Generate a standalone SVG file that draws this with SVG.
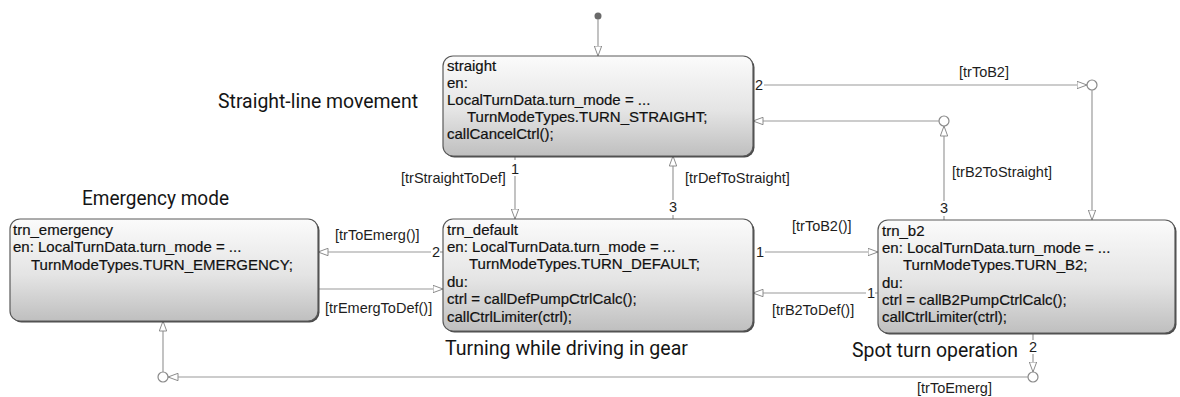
<svg xmlns="http://www.w3.org/2000/svg" width="1180" height="397" viewBox="0 0 1180 397">
  <defs>
    <linearGradient id="stateFill" x1="0" y1="0" x2="0" y2="1">
      <stop offset="0" stop-color="#fbfbfb"/>
      <stop offset="0.55" stop-color="#e4e4e4"/>
      <stop offset="1" stop-color="#bfbfbf"/>
    </linearGradient>
    <marker id="arrow" viewBox="0 0 11 9" refX="10.5" refY="4.5" markerWidth="11" markerHeight="9" markerUnits="userSpaceOnUse" orient="auto">
      <path d="M0.5,0.8 L10.5,4.5 L0.5,8.2 Z" fill="#ffffff" stroke="#8c8c8c" stroke-width="1"/>
    </marker>
    <style>
      .state-shadow { fill: #4a4a4a; }
      .state { fill: url(#stateFill); stroke: #5a5a5a; stroke-width: 1.2; }
      .code { font-family: "Liberation Sans", Arial, sans-serif; font-size: 15px; fill: #111111; stroke: #111111; stroke-width: 0.2; }
      .lbl { font-family: "Liberation Sans", Arial, sans-serif; font-size: 14.5px; fill: #1e1e1e; }
      .note { font-family: Roboto, "Noto Sans", sans-serif; font-size: 21px; fill: #151515; }
      .wire { fill: none; stroke: #9a9a9a; stroke-width: 1.2; }
      .arr { marker-end: url(#arrow); }
      .junction { fill: #ffffff; stroke: #8a8a8a; stroke-width: 1.2; }
    </style>
  </defs>

  <rect width="1180" height="397" fill="#ffffff"/>

  <!-- annotations -->
  <text class="note" x="218" y="108" textLength="200" lengthAdjust="spacingAndGlyphs">Straight-line movement</text>
  <text class="note" x="82" y="205" textLength="147" lengthAdjust="spacingAndGlyphs">Emergency mode</text>
  <text class="note" x="445" y="355" textLength="243" lengthAdjust="spacingAndGlyphs">Turning while driving in gear</text>
  <text class="note" x="852" y="357" textLength="166" lengthAdjust="spacingAndGlyphs">Spot turn operation</text>

  <!-- connectors -->
  <g id="connectors">
    <!-- default transition -->
    <circle cx="598" cy="16" r="3.5" fill="#6a6a6a"/>
    <line class="wire arr" x1="598" y1="19" x2="598" y2="56"/>

    <!-- straight -> trn_default -->
    <line class="wire" x1="515" y1="156" x2="515" y2="160"/>
    <text class="lbl" x="511" y="174">1</text>
    <line class="wire arr" x1="515" y1="176" x2="515" y2="219"/>
    <text class="lbl" x="401" y="183">[trStraightToDef]</text>

    <!-- trn_default -> straight -->
    <line class="wire" x1="673" y1="219" x2="673" y2="215"/>
    <text class="lbl" x="669" y="212">3</text>
    <line class="wire arr" x1="673" y1="200" x2="673" y2="156"/>
    <text class="lbl" x="685" y="183">[trDefToStraight]</text>

    <!-- straight -> junction -> trn_b2 -->
    <text class="lbl" x="755" y="90">2</text>
    <line class="wire arr" x1="764" y1="85" x2="1087" y2="85"/>
    <text class="lbl" x="959" y="77">[trToB2]</text>
    <circle class="junction" cx="1092" cy="85" r="5"/>
    <line class="wire arr" x1="1092" y1="90" x2="1092" y2="220"/>

    <!-- trn_b2 -> junction -> straight -->
    <line class="wire" x1="944" y1="220" x2="944" y2="216"/>
    <text class="lbl" x="940" y="213">3</text>
    <line class="wire arr" x1="944" y1="201" x2="944" y2="126"/>
    <text class="lbl" x="952" y="177">[trB2ToStraight]</text>
    <circle class="junction" cx="944" cy="121" r="5"/>
    <line class="wire arr" x1="939" y1="121" x2="753" y2="121"/>

    <!-- trn_default -> trn_emergency -->
    <line class="wire" x1="443" y1="252" x2="440" y2="252"/>
    <text class="lbl" x="432" y="257">2</text>
    <line class="wire arr" x1="431" y1="252" x2="318" y2="252"/>
    <text class="lbl" x="335" y="240">[trToEmerg()]</text>

    <!-- trn_emergency -> trn_default -->
    <line class="wire arr" x1="318" y1="289" x2="443" y2="289"/>
    <text class="lbl" x="325" y="313">[trEmergToDef()]</text>

    <!-- trn_default -> trn_b2 -->
    <text class="lbl" x="756" y="257">1</text>
    <line class="wire arr" x1="765" y1="252" x2="878" y2="252"/>
    <text class="lbl" x="792" y="231">[trToB2()]</text>

    <!-- trn_b2 -> trn_default -->
    <line class="wire" x1="878" y1="293" x2="875" y2="293"/>
    <text class="lbl" x="867" y="298">1</text>
    <line class="wire arr" x1="866" y1="293" x2="753" y2="293"/>
    <text class="lbl" x="772" y="315">[trB2ToDef()]</text>

    <!-- trn_b2 -> junction -> junction -> trn_emergency -->
    <line class="wire" x1="1033" y1="333" x2="1033" y2="340"/>
    <text class="lbl" x="1029" y="352">2</text>
    <line class="wire arr" x1="1033" y1="354" x2="1033" y2="372"/>
    <circle class="junction" cx="1033" cy="377" r="5"/>
    <line class="wire arr" x1="1028" y1="377" x2="168" y2="377"/>
    <text class="lbl" x="917" y="393">[trToEmerg]</text>
    <circle class="junction" cx="163" cy="377" r="5"/>
    <line class="wire arr" x1="163" y1="372" x2="163" y2="321"/>
  </g>

  <!-- states -->
  <g id="straight">
    <rect class="state-shadow" x="444.5" y="57.5" width="310" height="100" rx="10"/>
    <rect class="state" x="443" y="56" width="310" height="100" rx="10"/>
    <text class="code" x="447" y="71">straight</text>
    <text class="code" x="447" y="88">en:</text>
    <text class="code" x="447" y="105">LocalTurnData.turn_mode = ...</text>
    <text class="code" x="467" y="122">TurnModeTypes.TURN_STRAIGHT;</text>
    <text class="code" x="447" y="139">callCancelCtrl();</text>
  </g>

  <g id="trn_emergency">
    <rect class="state-shadow" x="11.5" y="220.5" width="308" height="102" rx="10"/>
    <rect class="state" x="10" y="219" width="308" height="102" rx="10"/>
    <text class="code" x="13" y="235">trn_emergency</text>
    <text class="code" x="13" y="252">en: LocalTurnData.turn_mode = ...</text>
    <text class="code" x="31" y="270">TurnModeTypes.TURN_EMERGENCY;</text>
  </g>

  <g id="trn_default">
    <rect class="state-shadow" x="444.5" y="220.5" width="310" height="112" rx="10"/>
    <rect class="state" x="443" y="219" width="310" height="112" rx="10"/>
    <text class="code" x="447" y="235">trn_default</text>
    <text class="code" x="447" y="252">en: LocalTurnData.turn_mode = ...</text>
    <text class="code" x="469" y="269">TurnModeTypes.TURN_DEFAULT;</text>
    <text class="code" x="447" y="287">du:</text>
    <text class="code" x="447" y="304">ctrl = callDefPumpCtrlCalc();</text>
    <text class="code" x="447" y="322">callCtrlLimiter(ctrl);</text>
  </g>

  <g id="trn_b2">
    <rect class="state-shadow" x="879.5" y="221.5" width="297" height="113" rx="10"/>
    <rect class="state" x="878" y="220" width="297" height="113" rx="10"/>
    <text class="code" x="882" y="236">trn_b2</text>
    <text class="code" x="882" y="253">en: LocalTurnData.turn_mode = ...</text>
    <text class="code" x="903" y="270">TurnModeTypes.TURN_B2;</text>
    <text class="code" x="882" y="288">du:</text>
    <text class="code" x="882" y="305">ctrl = callB2PumpCtrlCalc();</text>
    <text class="code" x="882" y="322">callCtrlLimiter(ctrl);</text>
  </g>
</svg>
